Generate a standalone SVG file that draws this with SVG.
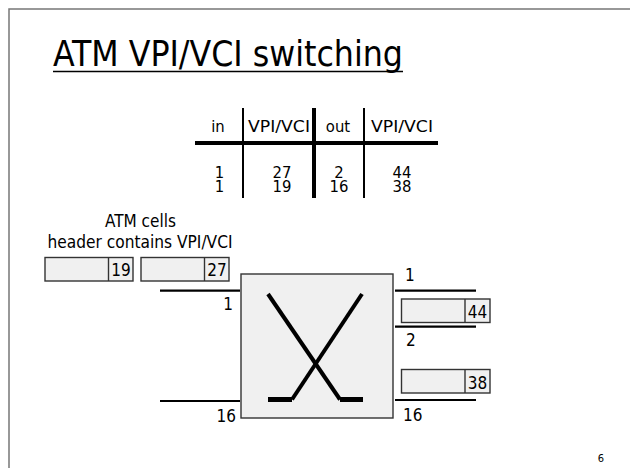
<svg xmlns="http://www.w3.org/2000/svg" width="630" height="468" viewBox="0 0 630 468">
<style>
text{font-family:"DejaVu Sans Condensed","DejaVu Sans",sans-serif;fill:#000}
.t{font-size:17px}
.tb{font-size:16.5px;text-anchor:middle}
.m{text-anchor:middle}
.e{text-anchor:end}
.cell{fill:#f0f0f0;stroke:#333;stroke-width:1.4}
.wire{stroke:#000;stroke-width:2.2;fill:none}
.x{stroke:#000;stroke-width:4;fill:none}
.foot{stroke:#000;stroke-width:5;fill:none}
</style>
<rect width="630" height="468" fill="#fff"/>
<path d="M9,470 V9 H632" fill="none" stroke="#777" stroke-width="1.5"/>
<g id="title">
<text x="53" y="66" font-size="35" textLength="350" lengthAdjust="spacingAndGlyphs">ATM VPI/VCI switching</text>
<line x1="53" y1="71.5" x2="403" y2="71.5" stroke="#000" stroke-width="1.6"/>
</g>
<g id="table">
<line x1="195" y1="143" x2="438" y2="143" stroke="#000" stroke-width="4"/>
<line x1="243" y1="108" x2="243" y2="198" stroke="#000" stroke-width="2"/>
<line x1="314" y1="108" x2="314" y2="198" stroke="#000" stroke-width="4"/>
<line x1="364" y1="108" x2="364" y2="198" stroke="#000" stroke-width="2"/>
<text class="tb" x="218" y="132">in</text>
<text class="tb" x="279" y="132" textLength="62" lengthAdjust="spacingAndGlyphs">VPI/VCI</text>
<text class="tb" x="338" y="132">out</text>
<text class="tb" x="402" y="132" textLength="62" lengthAdjust="spacingAndGlyphs">VPI/VCI</text>
<text class="tb" x="219.5" y="177.5">1</text>
<text class="tb" x="282" y="177.5">27</text>
<text class="tb" x="339" y="177.5">2</text>
<text class="tb" x="402" y="177.5">44</text>
<text class="tb" x="219.5" y="192">1</text>
<text class="tb" x="282" y="192">19</text>
<text class="tb" x="339" y="192">16</text>
<text class="tb" x="402" y="192">38</text>
</g>
<g id="caption">
<text class="t m" x="140.5" y="227">ATM cells</text>
<text class="t m" x="140" y="248" textLength="185" lengthAdjust="spacingAndGlyphs">header contains VPI/VCI</text>
</g>
<g id="cell19">
<rect class="cell" x="45" y="257.5" width="88" height="23.5"/>
<line class="cell" x1="108.5" y1="257.5" x2="108.5" y2="281"/>
<text class="t m" x="121" y="276">19</text>
</g>
<g id="cell27">
<rect class="cell" x="141" y="257.5" width="88" height="23.5"/>
<line class="cell" x1="204.5" y1="257.5" x2="204.5" y2="281"/>
<text class="t m" x="217" y="276">27</text>
</g>
<g id="switch">
<rect x="241" y="274" width="152" height="144" fill="#f0f0f0" stroke="#333" stroke-width="1.4"/>
<path class="x" d="M268,294 L340,399.5"/>
<path class="foot" d="M340,399.5 H363"/>
<path class="x" d="M362,294 L292,399.5"/>
<path class="foot" d="M292,399.5 H268"/>
</g>
<g id="cell44">
<rect class="cell" x="401.5" y="299" width="88.5" height="23.5"/>
<line class="cell" x1="465" y1="299" x2="465" y2="322.5"/>
<text class="t m" x="477.5" y="318">44</text>
</g>
<g id="cell38">
<rect class="cell" x="401.5" y="369.5" width="88.5" height="23.5"/>
<line class="cell" x1="465" y1="369.5" x2="465" y2="393"/>
<text class="t m" x="477.5" y="388.5">38</text>
</g>
<g id="connectors">
<line class="wire" x1="160" y1="290.7" x2="240" y2="290.7"/>
<line class="wire" x1="160" y1="401" x2="240" y2="401"/>
<line class="wire" x1="395" y1="290.7" x2="476" y2="290.7"/>
<line class="wire" x1="395" y1="326.7" x2="476" y2="326.7"/>
<line class="wire" x1="395" y1="400" x2="476" y2="400"/>
</g>
<g id="port-labels">
<text class="t e" x="233" y="310">1</text>
<text class="t e" x="236" y="422">16</text>
<text class="t" x="405" y="281">1</text>
<text class="t" x="406" y="346">2</text>
<text class="t" x="403" y="421">16</text>
</g>
<text x="601" y="462" font-size="11" text-anchor="middle">6</text>
</svg>
